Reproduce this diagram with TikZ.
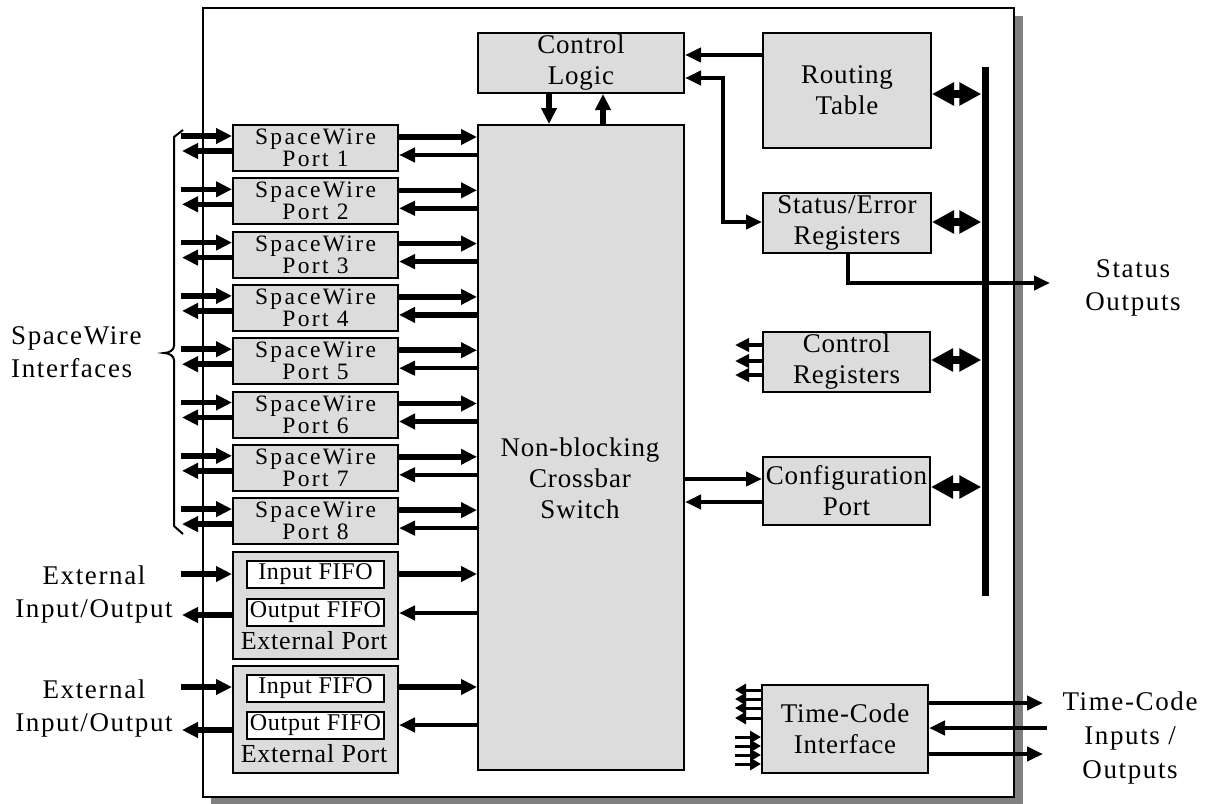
\documentclass[tikz,border=0pt]{standalone}
\usepackage{fontspec}
\setmainfont{Liberation Serif}
\newfontfamily\boxfont{Liberation Serif}[LetterSpace=3]
\newfontfamily\lblfont{Liberation Serif}[LetterSpace=6]
\newfontfamily\portfont{Liberation Serif}[LetterSpace=10]
\usetikzlibrary{arrows.meta}
\definecolor{boxgray}{RGB}{220,220,220}
\definecolor{shadowgray}{RGB}{128,128,128}
\tikzset{
 blk/.style={draw=black, line width=2pt, fill=boxgray, inner sep=0pt, anchor=north west,
   align=center, font=\boxfont\fontsize{27}{31}\selectfont},
 pbox/.style={blk, minimum width=165pt, minimum height=46pt, font=\portfont\fontsize{23.5}{22}\selectfont},
 fifo/.style={draw=black, line width=2pt, fill=white, inner sep=0pt, anchor=north west,
   minimum width=137pt, minimum height=27pt, font=\boxfont\fontsize{24}{24}\selectfont},
 txt/.style={align=center, font=\lblfont\fontsize{27}{33}\selectfont, inner sep=0pt},
 btxt/.style={align=center, font=\boxfont\fontsize{27}{31}\selectfont, inner sep=0pt},
 big/.style={line width=5.5pt, -{Triangle[length=16pt,width=15pt]}},
 mid/.style={line width=4.5pt, -{Triangle[length=16pt,width=14pt]}},
 middbl/.style={line width=4.5pt, {Triangle[length=16pt,width=14pt]}-{Triangle[length=16pt,width=14pt]}},
 dbl/.style={line width=8pt, {Triangle[length=22pt,width=22pt]}-{Triangle[length=22pt,width=22pt]}},
 sml/.style={line width=3.5pt, -{Triangle[length=14pt,width=13pt]}},
 tiny/.style={line width=3pt, -{Triangle[length=11pt,width=12pt]}},
}
\begin{document}
\begin{tikzpicture}[x=1pt,y=-1pt]
\useasboundingbox (0,0) rectangle (1209,803);
% outer box with shadow
\fill[shadowgray] (211,16) rectangle (1023,806);
\draw[line width=2pt, fill=white] (203,8) rectangle (1014,797);

% main blocks
\node[blk, minimum width=206pt, minimum height=60pt] (cl) at (477,32) {Control\\Logic};
\node[blk, minimum width=168pt, minimum height=115pt] (rt) at (762,32) {Routing\\Table};
\node[blk, minimum width=168pt, minimum height=60pt] (se) at (762,192) {Status/Error\\Registers};
\node[blk, minimum width=167pt, minimum height=60pt] (cr) at (762,331) {Control\\Registers};
\node[blk, minimum width=167pt, minimum height=68pt] (cfg) at (762,456) {Configuration\\Port};
\node[blk, minimum width=166pt, minimum height=88pt] (tc) at (761,684) {Time-Code\\Interface};
\node[blk, minimum width=206pt, minimum height=645pt] (xbar) at (477,124) {};
\node[btxt] (xbartxt) at (580,478) {Non-blocking\\Crossbar\\Switch};

% bus
\node[fill=black, inner sep=0pt, minimum width=7pt, minimum height=529pt, anchor=north] (bus) at (985,67) {};

% SpaceWire ports
\foreach \k in {1,...,8} {
  \pgfmathsetmacro\T{124+53.3*(\k-1)}
  \node[pbox] (p\k) at (232,\T) {SpaceWire\\Port \k};
  \coordinate (pin\k) at (181,\T+12);
  \coordinate (pout\k) at (182,\T+27);
  \draw[big] (pin\k) -- (p\k.west |- pin\k);
  \draw[big] (p\k.west |- pout\k) -- (pout\k);
  \draw[big] (p\k.east |- 0,\T+13) -- (xbar.west |- 0,\T+13);
}
\foreach \k in {1,2,3,5,7,8} {
  \pgfmathsetmacro\T{124+53.3*(\k-1)}
  \draw[mid] (xbar.west |- 0,\T+31) -- (p\k.east |- 0,\T+31);
}
\foreach \k in {4,6} {
  \pgfmathsetmacro\T{124+53.3*(\k-1)}
  \draw[big] (xbar.west |- 0,\T+31) -- (p\k.east |- 0,\T+31);
}

% external ports
\node[blk, minimum width=165pt, minimum height=107pt] (e1) at (232,551) {};
\node[fifo] (i1) at (246,560) {Input FIFO};
\node[fifo] (o1) at (246,598) {Output FIFO};
\node[btxt, font=\boxfont\fontsize{26}{30}\selectfont] (e1t) at (314,641) {External Port};
\node[blk, minimum width=165pt, minimum height=107pt] (e2) at (232,665) {};
\node[fifo] (i2) at (246,674) {Input FIFO};
\node[fifo] (o2) at (246,711) {Output FIFO};
\node[btxt, font=\boxfont\fontsize{26}{30}\selectfont] (e2t) at (314,754) {External Port};

\coordinate (ein1) at (181,574);
\coordinate (eout1) at (182,615);
\coordinate (ein2) at (181,687);
\coordinate (eout2) at (182,730);
\draw[big] (ein1) -- (e1.west |- ein1);
\draw[big] (e1.west |- eout1) -- (eout1);
\draw[big] (ein2) -- (e2.west |- ein2);
\draw[big] (e2.west |- eout2) -- (eout2);
\draw[big] (e1.east |- 0,574) -- (xbar.west |- 0,574);
\draw[mid] (xbar.west |- 0,613) -- (e1.east |- 0,613);
\draw[big] (e2.east |- 0,687) -- (xbar.west |- 0,687);
\draw[mid] (xbar.west |- 0,725) -- (e2.east |- 0,725);

% brace
\draw[line width=2pt] (183,130) -- (174,137) -- (174,346)
  .. controls (174,350) and (169,353) .. (164,353)
  .. controls (169,353) and (174,356) .. (174,360)
  -- (174,526) -- (183,534);

% labels
\node[txt, align=left, anchor=west] (swi) at (11,352) {SpaceWire\\Interfaces};
\node[txt] (ext1) at (94,594) {External\\Input/Output};
\node[txt] (ext2) at (94,708) {External\\Input/Output};
\node[txt] (sol) at (1133,288) {Status\\Outputs};
\node[txt, font=\lblfont\fontsize{27}{34}\selectfont] (tcl) at (1130,738) {Time-Code\\Inputs /\\Outputs};

% control logic connections
\draw[big] (cl.south -| 549,0) -- (xbar.north -| 549,0);
\draw[big] (xbar.north -| 603,0) -- (cl.south -| 603,0);
\draw[mid] (rt.west |- 0,55) -- (cl.east |- 0,55);
\draw[middbl] (cl.east |- 0,78) -- (723,78) -- (723,222) -- (se.west |- 0,222);

% bus connections
\draw[dbl] (rt.east |- 0,94) -- (bus.west |- 0,94);
\draw[dbl] (se.east |- 0,222) -- (bus.west |- 0,222);
\draw[dbl] (cr.east |- 0,360) -- (bus.west |- 0,360);
\draw[dbl] (cfg.east |- 0,487) -- (bus.west |- 0,487);

% status outputs
\coordinate (sout) at (1050,283);
\draw[mid] (se.south -| 848,0) -- (848,283) -- (sout);

% configuration port
\draw[mid] (xbar.east |- 0,479) -- (cfg.west |- 0,479);
\draw[mid] (cfg.west |- 0,502) -- (xbar.east |- 0,502);

% control register outputs
\foreach \y [count=\i] in {345,361,375} {
  \coordinate (cro\i) at (735,\y);
  \draw[sml] (cr.west |- cro\i) -- (cro\i);
}

% time-code small arrows
\foreach \y [count=\i] in {690,699,708,718} {
  \coordinate (tco\i) at (735,\y);
  \draw[tiny] (tc.west |- tco\i) -- (tco\i);
}
\foreach \y [count=\i] in {737,746,755,764} {
  \coordinate (tci\i) at (735,\y);
  \draw[tiny] (tci\i) -- (tc.west |- tci\i);
}

% time-code external
\coordinate (tcx1) at (1043,703);
\coordinate (tcx2) at (1047,728);
\coordinate (tcx3) at (1043,754);
\draw[mid] (tc.east |- tcx1) -- (tcx1);
\draw[mid] (tcx2) -- (tc.east |- tcx2);
\draw[mid] (tc.east |- tcx3) -- (tcx3);
\end{tikzpicture}
\end{document}
